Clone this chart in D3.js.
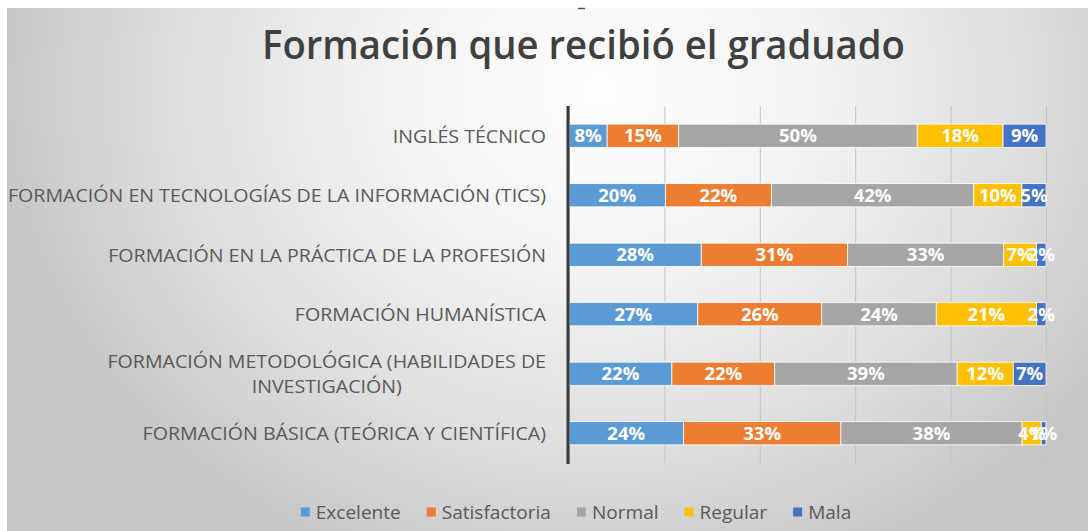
<!DOCTYPE html>
<html>
<head>
<meta charset="utf-8">
<script src="https://cdn.jsdelivr.net/npm/d3@7/dist/d3.min.js"></script>
<style>
  html, body { margin: 0; padding: 0; background: #ffffff; }
  svg { display: block; }
</style>
</head>
<body>
<svg id="chart" width="1088" height="531"></svg>
<script>
// ---- data ----
const title = "Formación que recibió el graduado";
const categories = [
  "INGLÉS TÉCNICO",
  "FORMACIÓN EN TECNOLOGÍAS DE LA INFORMACIÓN (TICS)",
  "FORMACIÓN EN LA PRÁCTICA DE LA PROFESIÓN",
  "FORMACIÓN HUMANÍSTICA",
  "FORMACIÓN METODOLÓGICA (HABILIDADES DE\nINVESTIGACIÓN)",
  "FORMACIÓN BÁSICA (TEÓRICA Y CIENTÍFICA)"
];
const seriesNames = ["Excelente", "Satisfactoria", "Normal", "Regular", "Mala"];
const excelente     = [8, 20, 28, 27, 22, 24];
const satisfactoria = [15, 22, 31, 26, 22, 33];
const normal        = [50, 42, 33, 24, 39, 38];
const regular       = [18, 10, 7, 21, 12, 4];
const mala          = [9, 5, 2, 2, 7, 1];
const xTicks = [0, 0.2, 0.4, 0.6, 0.8, 1];
const colors = ["#5B9BD5", "#ED7D31", "#A5A5A5", "#FFC000", "#4472C4"];

// ---- build ----
const seriesValues = [excelente, satisfactoria, normal, regular, mala];
const rows = categories.map((c, i) => {
  const r = { cat: c };
  seriesNames.forEach((s, j) => r[s] = seriesValues[j][i]);
  return r;
});

const svg = d3.select("#chart");
const defs = svg.append("defs");
const grad = defs.append("radialGradient")
  .attr("id", "bg").attr("gradientUnits", "userSpaceOnUse")
  .attr("cx", 600).attr("cy", 90).attr("r", 620)
  .attr("gradientTransform", "translate(600,90) scale(1,0.85) translate(-600,-90)");
grad.append("stop").attr("offset", 0).attr("stop-color", "#fefefe");
grad.append("stop").attr("offset", 0.35).attr("stop-color", "#f3f3f3");
grad.append("stop").attr("offset", 0.7).attr("stop-color", "#dddddd");
grad.append("stop").attr("offset", 1).attr("stop-color", "#c5c5c5");

svg.append("rect").attr("x", 7).attr("y", 8).attr("width", 1081).attr("height", 523)
  .attr("fill", "url(#bg)");

// small mark at top
svg.append("line").attr("x1", 578).attr("x2", 585).attr("y1", 8.5).attr("y2", 8.5)
  .attr("stroke", "#555").attr("stroke-width", 1.5);

// title
svg.append("text").attr("x", 583.5).attr("y", 59)
  .attr("text-anchor", "middle")
  .attr("font-family", "'Open Sans', sans-serif").attr("font-size", 40)
  .attr("font-weight", 600)
  .attr("fill", "#404040")
  .attr("textLength", 643).attr("lengthAdjust", "spacingAndGlyphs")
  .text(title);

const x = d3.scaleLinear().domain([0, 1]).range([569, 1046]);
const y = d3.scaleBand().domain(categories).range([106, 463])
  .paddingInner(0.61).paddingOuter(0.305);

// gridlines
svg.append("g").attr("transform", "translate(0,463)")
  .call(d3.axisBottom(x).tickValues(xTicks).tickSize(-357).tickFormat(""))
  .call(g => g.select(".domain").remove())
  .call(g => g.selectAll(".tick line").attr("stroke", "#c3c3c3").attr("stroke-width", 1));

const stack = d3.stack().keys(seriesNames).offset(d3.stackOffsetExpand);
const stacked = stack(rows);

const layers = svg.append("g").selectAll("g").data(stacked).join("g")
  .attr("fill", (d, i) => colors[i]);
layers.selectAll("rect").data(d => d).join("rect")
  .attr("x", d => x(d[0]))
  .attr("width", d => x(d[1]) - x(d[0]))
  .attr("y", d => y(d.data.cat))
  .attr("height", y.bandwidth())
  .attr("stroke", "#ffffff").attr("stroke-width", 0.8);

// value labels
stacked.forEach((layer, i) => {
  svg.append("g").selectAll("text").data(layer).join("text")
    .attr("x", d => (x(d[0]) + x(d[1])) / 2)
    .attr("y", d => y(d.data.cat) + y.bandwidth() / 2)
    .attr("dy", "0.36em")
    .attr("text-anchor", "middle")
    .attr("font-family", "'Open Sans', sans-serif").attr("font-weight", "bold")
    .attr("font-size", 18.5).attr("fill", "#ffffff")
    .text(d => d.data[layer.key] + "%");
});

// y axis line
svg.append("g").attr("transform", "translate(568,0)")
  .call(d3.axisLeft(y).tickSize(0).tickFormat(""))
  .call(g => g.select(".domain").attr("stroke", "#3a3a3a").attr("stroke-width", 3)
    .attr("d", "M0,106V464"));

// category labels
const catG = svg.append("g").attr("font-family", "'Open Sans', sans-serif")
  .attr("font-size", 19).attr("fill", "#595959");
// scale factor so the longest label spans the same width as in the reference
const probe = catG.append("text").text(categories[1]);
const kCat = 538 / probe.node().getComputedTextLength();
probe.remove();
categories.forEach(c => {
  const lines = c.split("\n");
  const cy = y(c) + y.bandwidth() / 2;
  const lh = 25;
  const texts = lines.map((ln, k) => catG.append("text")
    .attr("y", cy + (k - (lines.length - 1) / 2) * lh)
    .attr("dy", "0.36em").text(ln));
  const widths = texts.map(t => t.node().getComputedTextLength() * kCat);
  const maxW = d3.max(widths);
  const center = 546 - maxW / 2;
  texts.forEach((t, k) => {
    t.attr("textLength", widths[k]).attr("lengthAdjust", "spacingAndGlyphs")
     .attr("x", center - widths[k] / 2);
  });
});

// legend
const legG = svg.append("g").attr("font-family", "'Open Sans', sans-serif")
  .attr("font-size", 18.5).attr("fill", "#595959");
const probe2 = legG.append("text").text(seriesNames[0]);
const kLeg = 85 / probe2.node().getComputedTextLength();
probe2.remove();
let items = [];
seriesNames.forEach((s, i) => {
  const g = legG.append("g");
  g.append("rect").attr("width", 9).attr("height", 9).attr("y", 512 - 4.5).attr("fill", colors[i]);
  const t = g.append("text").attr("x", 15).attr("y", 512).attr("dy", "0.36em").text(s);
  const w = t.node().getComputedTextLength() * kLeg;
  t.attr("textLength", w).attr("lengthAdjust", "spacingAndGlyphs");
  items.push({ g, w: 15 + w });
});
const gap = 26;
const total = d3.sum(items, d => d.w) + gap * (items.length - 1);
let lx = 576 - total / 2;
items.forEach(it => { it.g.attr("transform", `translate(${lx},0)`); lx += it.w + gap; });
</script>
</body>
</html>
